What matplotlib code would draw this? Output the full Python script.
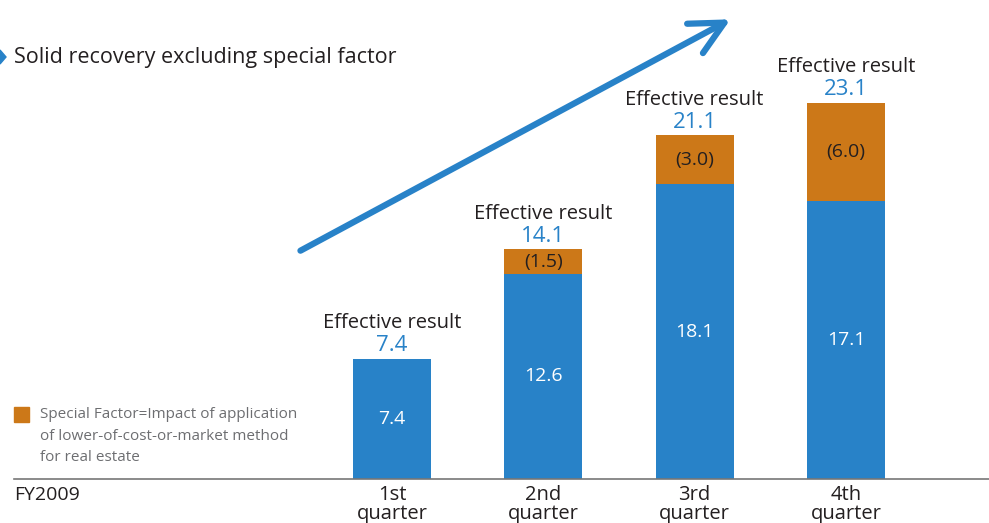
import matplotlib
matplotlib.use('Agg')
import matplotlib.pyplot as plt
from matplotlib.patches import FancyArrowPatch, Polygon

plt.rcParams['font.family'] = ['Open Sans', 'DejaVu Sans']

quarters = ['1st\nquarter', '2nd\nquarter', '3rd\nquarter', '4th\nquarter']
base = [7.4, 12.6, 18.1, 17.1]          # result after special factor
special = [0.0, 1.5, 3.0, 6.0]          # lower-of-cost-or-market impact
effective = [7.4, 14.1, 21.1, 23.1]     # result excluding special factor

BLUE = '#2882c8'
ORANGE = '#cc7818'
DARK = '#231f20'
GREY = '#6d6e71'

fig = plt.figure(figsize=(9.89, 5.23), dpi=100)
ax = fig.add_axes([0, 0, 1, 1])
ax.set_xlim(-2.591, 3.946)
ax.set_ylim(-2.70, 29.42)
ax.axis('off')

x = range(len(quarters))
w = 0.515
ax.bar(x, base, width=w, color=BLUE, zorder=2)
ax.bar(x, special, width=w, bottom=base, color=ORANGE, zorder=2)

for i in x:
    ax.text(i, base[i] / 2, f'{base[i]:.1f}', color='white', fontsize=14,
            ha='center', va='center')
    if special[i] > 0:
        ax.text(i, base[i] + special[i] / 2, f'({special[i]:.1f})', color=DARK,
                fontsize=14, ha='center', va='center')
    ax.text(i, effective[i] + 0.8, f'{effective[i]:.1f}', color=BLUE,
            fontsize=16, ha='center', va='center')
    ax.text(i, effective[i] + 2.2, 'Effective result', color=DARK,
            fontsize=14.5, ha='center', va='center')
    ax.text(i, -0.35, quarters[i], color=DARK, fontsize=14.5, ha='center',
            va='top', linespacing=0.95)

# baseline
ax.plot([14 / 989, 1], [44 / 523, 44 / 523], color='#777777', lw=1.2,
        transform=fig.transFigure, clip_on=False)
fig.text(14 / 989, 1 - 495 / 523, 'FY2009', color=DARK, fontsize=14,
         va='center', ha='left')

# heading with pointer
fig.patches.append(Polygon([[0, 1 - 50 / 523], [6 / 989, 1 - 57 / 523],
                            [0, 1 - 64 / 523]], closed=True, color=BLUE,
                           transform=fig.transFigure))
fig.text(14 / 989, 1 - 57 / 523, 'Solid recovery excluding special factor',
         color=DARK, fontsize=15.5, va='center', ha='left')

# legend swatch and note
fig.patches.append(plt.Rectangle((14 / 989, 1 - 422 / 523), 15 / 989, 15 / 523,
                                 color=ORANGE, transform=fig.transFigure))
fig.text(40 / 989, 1 - 436 / 523,
         'Special Factor=Impact of application\n'
         'of lower-of-cost-or-market method\nfor real estate',
         color=GREY, fontsize=11, va='center', ha='left', linespacing=1.55)

# growth arrow
arrow = FancyArrowPatch((298 / 989, 1 - 252 / 523), (733 / 989, 1 - 18 / 523),
                        transform=fig.transFigure, arrowstyle='->,head_length=12,head_width=6',
                        color=BLUE, lw=4.5, mutation_scale=2)
fig.patches.append(arrow)

fig.savefig('out.png', dpi=100)
